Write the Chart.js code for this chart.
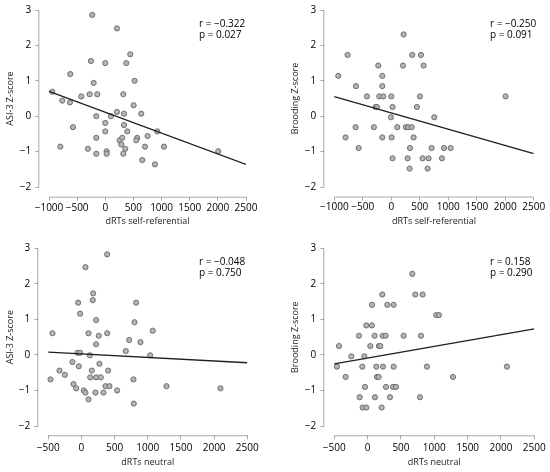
<!DOCTYPE html>
<html>
<head>
<meta charset="utf-8">
<script src="https://cdn.jsdelivr.net/npm/chart.js@4.4.1/dist/chart.umd.min.js"></script>
<style>
  body { margin: 0; background: #fff; }
  #wrap { position: relative; width: 550px; height: 472px; }
  .panel { position: absolute; width: 275px; height: 236px; }
</style>
</head>
<body>
<div id="wrap">
  <div class="panel" style="left:0;top:0"><canvas id="chart1" width="275" height="236"></canvas></div>
  <div class="panel" style="left:275px;top:0"><canvas id="chart2" width="275" height="236"></canvas></div>
  <div class="panel" style="left:0;top:236px"><canvas id="chart3" width="275" height="236"></canvas></div>
  <div class="panel" style="left:275px;top:236px"><canvas id="chart4" width="275" height="236"></canvas></div>
</div>
<script>
// --- data ---
var selfRefX1 = [-231, 207, 444, -255, 0, 373, -622, 521, -207, -941, -764, -628, -426, -278, -142, 320, 503, 207, -160, 101,
  332, 639, 0, -574, 332, 0, 391, 924, -160, 255, 302, 284, 568, 550, 752, -799, -308, 355, 705, 1042, -160, 24, 24, 320, 657, 882, 2007];
var asiY1 = [2.86, 2.48, 1.75, 1.56, 1.50, 1.50, 1.19, 1.00, 0.94, 0.69, 0.44, 0.39, 0.56, 0.62, 0.62, 0.62, 0.31, 0.12, 0.00, 0.00,
  0.07, 0.07, -0.19, -0.31, -0.25, -0.43, -0.43, -0.43, -0.61, -0.68, -0.61, -0.80, -0.61, -0.68, -0.56, -0.86, -0.92, -0.92, -0.86, -0.86,
  -1.06, -0.99, -1.06, -1.06, -1.24, -1.36, -0.99];

var selfRefX2 = [-767, -930, -228, 205, 369, 521, 568, 217, -158, -620, -158, -427, -211, -140, 0, 503, 2007, -275, -252, 23,
  451, -6, 755, -626, -304, 105, 257, 298, 357, -802, -158, 6, 392, -573, 328, 708, 925, 1042, 23, 287, 550, 655, 889, 322, 638];
var broodY2 = [1.73, 1.14, 1.43, 1.43, 1.73, 1.73, 1.43, 2.31, 1.14, 0.85, 0.85, 0.56, 0.56, 0.56, 0.56, 0.56, 0.56, 0.26, 0.26, 0.26,
  0.26, -0.03, -0.03, -0.31, -0.31, -0.31, -0.31, -0.31, -0.31, -0.60, -0.60, -0.60, -0.60, -0.90, -0.90, -0.90, -0.90, -0.90,
  -1.19, -1.19, -1.19, -1.19, -1.19, -1.48, -1.48];

var neutralX3 = [387, 60, 176, 171, -50, 824, -20, 221, 799, -437, 106, 387, 1075, 261, 719, 889, 221, 668, -60, -20,
  126, 1035, -136, -40, 271, -332, -251, 156, 402, -467, 131, 221, 291, 784, -121, -80, 362, 422, 1281, 2095, 35, 60, 211, 332, 538, 106, 789];
var asiY3 = [2.83, 2.47, 1.73, 1.54, 1.47, 1.47, 1.16, 0.98, 0.92, 0.61, 0.61, 0.61, 0.68, 0.54, 0.42, 0.36, 0.30, 0.11, 0.06, 0.06,
  -0.01, -0.01, -0.20, -0.32, -0.25, -0.44, -0.56, -0.44, -0.44, -0.69, -0.63, -0.63, -0.63, -0.69, -0.82, -0.94, -0.88, -0.88, -0.88, -0.94,
  -1.00, -1.06, -1.06, -1.06, -1.00, -1.25, -1.37];

var neutralX4 = [670, 220, 715, 825, 65, 295, 390, 1030, 1070, -20, 65, -130, 105, 225, 270, 540, 800, -430, 40, 170,
  190, -245, -50, -460, -80, 130, 230, 390, 890, 2090, -330, 140, 165, 1280, -40, 275, 380, 425, -120, 110, 335, 785, -75, -20, 210];
var broodY4 = [2.28, 1.70, 1.70, 1.70, 1.41, 1.41, 1.41, 1.12, 1.12, 0.83, 0.83, 0.54, 0.54, 0.54, 0.54, 0.54, 0.54, 0.25, 0.25, 0.25,
  0.25, -0.04, -0.04, -0.33, -0.33, -0.33, -0.33, -0.33, -0.33, -0.33, -0.62, -0.62, -0.62, -0.62, -0.90, -0.90, -0.90, -0.90,
  -1.19, -1.19, -1.19, -1.19, -1.48, -1.48, -1.48];

// fitted line, y at the left and right end of the x axis
var fitStart = [0.70, 0.55, 0.08, -0.25];
var fitEnd = [-1.36, -1.06, -0.22, 0.73];

var rValues = ['\u22120.322', '\u22120.250', '\u22120.048', '0.158'];
var pValues = ['0.027', '0.091', '0.750', '0.290'];

var xTicksSelf = [-1000, -500, 0, 500, 1000, 1500, 2000, 2500];
var xTicksNeutral = [-500, 0, 500, 1000, 1500, 2000, 2500];
var yTicks = [-2, -1, 0, 1, 2, 3];

var FONT = "'Open Sans', 'Liberation Sans', sans-serif";
Chart.defaults.font.family = FONT;
Chart.defaults.color = '#000';

function minus(v) {
  return String(v).replace('-', '\u2212');
}

// detached axis lines, axis titles and r / p text
var axesPlugin = {
  id: 'jaspAxes',
  afterDraw: function(chart, args, opts) {
    var ctx = chart.ctx;
    var xs = chart.scales.x, ys = chart.scales.y, a = chart.chartArea;
    var x0 = xs.getPixelForValue(opts.xTicks[0]);
    var x1 = xs.getPixelForValue(opts.xTicks[opts.xTicks.length - 1]);
    var y0 = ys.getPixelForValue(yTicks[yTicks.length - 1]);
    var y1 = ys.getPixelForValue(yTicks[0]);
    ctx.save();
    ctx.strokeStyle = '#a8a8a8';
    ctx.lineWidth = 1;
    ctx.beginPath();
    ctx.moveTo(a.left - 0.5, y0);
    ctx.lineTo(a.left - 0.5, y1);
    ctx.moveTo(x0, a.bottom + 0.5);
    ctx.lineTo(x1, a.bottom + 0.5);
    ctx.stroke();

    ctx.fillStyle = '#222';
    ctx.font = '9px ' + FONT;
    ctx.textAlign = 'center';
    ctx.textBaseline = 'middle';
    ctx.fillText(opts.xTitle, (x0 + x1) / 2, a.bottom + opts.xTitleGap);
    ctx.save();
    ctx.translate(opts.yTitleX, (y0 + y1) / 2);
    ctx.rotate(-Math.PI / 2);
    ctx.fillText(opts.yTitle, 0, 0);
    ctx.restore();

    ctx.fillStyle = '#000';
    ctx.font = '10px ' + FONT;
    ctx.textAlign = 'left';
    ctx.fillText('r = ' + opts.r, opts.statsX, opts.statsY);
    ctx.fillText('p = ' + opts.p, opts.statsX, opts.statsY + 11.5);
    ctx.restore();
  }
};

function makeChart(id, i, xs, ys, xTicks, xTitle, yTitle, box) {
  var xFrom = xTicks[0], xTo = xTicks[xTicks.length - 1];
  var xMin = xFrom - (box.xStart - box.yAxis) * (xTo - xFrom) / (box.xEnd - box.xStart);
  var yMin = -2 - (box.xAxis - box.yLow) * 5 / (box.yLow - box.top);
  var pts = xs.map(function(x, k) { return {x: x, y: ys[k]}; });

  return new Chart(document.getElementById(id), {
    type: 'scatter',
    data: {
      datasets: [{
        type: 'line',
        data: [{x: xFrom, y: fitStart[i]}, {x: xTo, y: fitEnd[i]}],
        borderColor: '#1e1e1e',
        borderWidth: 1.3,
        pointRadius: 0,
        order: 0
      }, {
        data: pts,
        pointRadius: 2.6,
        pointBackgroundColor: '#b4b4b4',
        pointBorderColor: '#666',
        pointBorderWidth: 0.9,
        order: 1
      }]
    },
    options: {
      responsive: false,
      animation: false,
      events: [],
      layout: { padding: { left: 0, top: box.top, right: 275 - box.xEnd, bottom: 0 } },
      plugins: {
        legend: { display: false },
        tooltip: { enabled: false },
        jaspAxes: {
          xTicks: xTicks, xTitle: xTitle, yTitle: yTitle,
          xTitleGap: box.titleGap, yTitleX: box.yTitleX,
          r: rValues[i], p: pValues[i], statsX: box.statsX, statsY: box.statsY
        }
      },
      scales: {
        x: {
          type: 'linear',
          min: xMin,
          max: xTo,
          afterBuildTicks: function(s) { s.ticks = xTicks.map(function(v) { return {value: v}; }); },
          afterFit: function(s) { s.height = 236 - box.xAxis; },
          border: { display: false },
          grid: { drawOnChartArea: false, drawTicks: true, tickLength: 4, color: '#a8a8a8' },
          ticks: { autoSkip: false, maxRotation: 0, padding: box.tickPad, font: { size: 10 }, color: '#000',
                   callback: function(v) { return minus(v); } }
        },
        y: {
          type: 'linear',
          min: yMin,
          max: 3,
          afterBuildTicks: function(s) { s.ticks = yTicks.map(function(v) { return {value: v}; }); },
          afterFit: function(s) { s.width = box.yAxis; },
          border: { display: false },
          grid: { drawOnChartArea: false, drawTicks: true, tickLength: 4, color: '#a8a8a8' },
          ticks: { padding: 4, font: { size: 10 }, color: '#000',
                   callback: function(v) { return minus(v); } }
        }
      }
    },
    plugins: [axesPlugin]
  });
}

makeChart('chart1', 0, selfRefX1, asiY1, xTicksSelf, 'dRTs self-referential', 'ASI-3 Z-score',
  { yAxis: 39.3, xStart: 49, xEnd: 246, top: 10, yLow: 187, xAxis: 196.7, tickPad: 1, titleGap: 25, yTitleX: 10, statsX: 199, statsY: 24 });
makeChart('chart2', 1, selfRefX2, broodY2, xTicksSelf, 'dRTs self-referential', 'Brooding Z-score',
  { yAxis: 49.3, xStart: 59.3, xEnd: 258.7, top: 10, yLow: 187, xAxis: 196.5, tickPad: 1, titleGap: 25, yTitleX: 20, statsX: 215, statsY: 24 });
makeChart('chart3', 2, neutralX3, asiY3, xTicksNeutral, 'dRTs neutral', 'ASI-3 Z-score',
  { yAxis: 38.3, xStart: 48.3, xEnd: 247.3, top: 12.3, yLow: 190, xAxis: 199.3, tickPad: 3, titleGap: 27, yTitleX: 10, statsX: 199, statsY: 26 });
makeChart('chart4', 3, neutralX4, broodY4, xTicksNeutral, 'dRTs neutral', 'Brooding Z-score',
  { yAxis: 49.3, xStart: 59.3, xEnd: 259.3, top: 12.3, yLow: 190, xAxis: 199.3, tickPad: 3, titleGap: 27.3, yTitleX: 20, statsX: 215, statsY: 26 });
</script>
</body>
</html>
